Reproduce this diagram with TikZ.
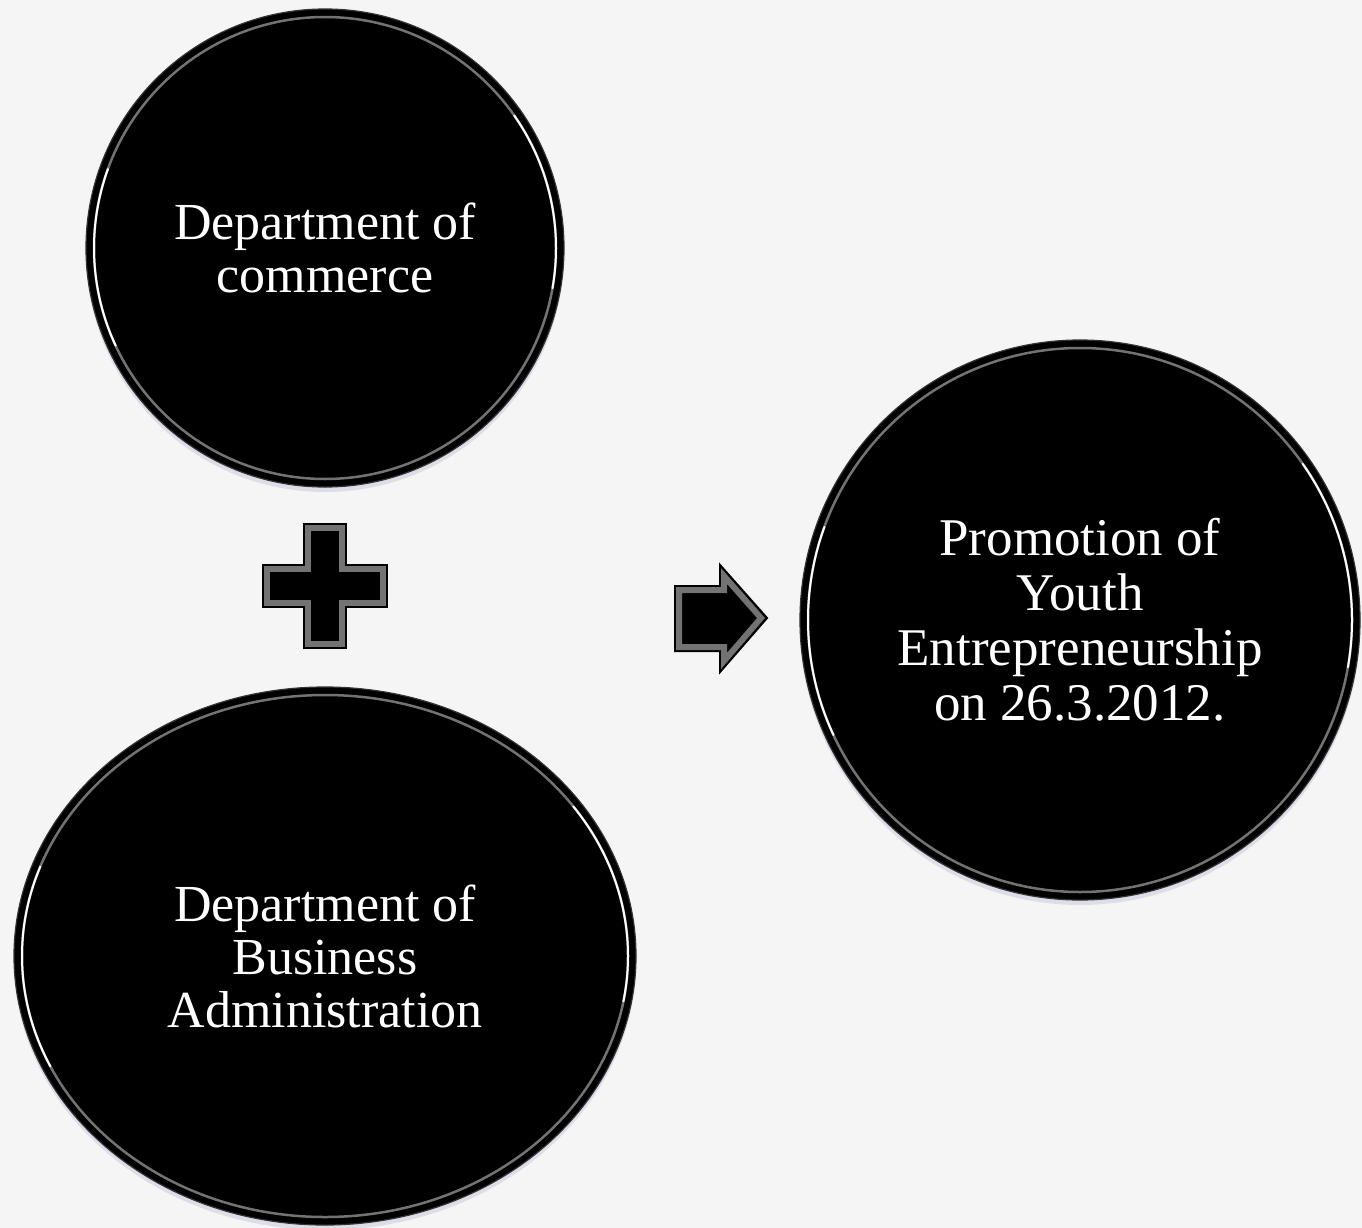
\documentclass[tikz,border=0pt]{standalone}
\usepackage{fontspec}
\setmainfont{Liberation Serif}
\usetikzlibrary{shapes.geometric, shadows}

\tikzset{
  disc/.style={fill=black, draw=black!80, line width=1.2pt, text=white, align=center, inner sep=0pt,
    font=\fontsize{52}{53}\selectfont,
    drop shadow={shadow xshift=0pt, shadow yshift=-5pt, opacity=0.25, fill=black!60!blue!40}},
  rim/.style={draw=black!55, line width=2.5pt},
  gloss/.style={draw=white, line width=2pt, line cap=round},
  bevel/.style={fill=black, draw=black, line width=2pt, line join=miter},
  facet/.style={draw=black!55, line width=6pt, line join=miter},
}

\begin{document}
\begin{tikzpicture}[x=1pt, y=-1pt]
    \fill[black!4] (0,0) rectangle (1362,1228);
    \useasboundingbox (0,0) rectangle (1362,1228);

    % the three discs
    \node[disc, circle, minimum size=478] (commerce) at (325,248) {Department of\\commerce};
    \node[disc, ellipse, minimum width=622, minimum height=538] (busadm) at (325,956) {Department of\\Business\\Administration};
    \node[disc, circle, minimum size=560, font=\fontsize{53}{55}\selectfont] (youth) at (1080,620) {Promotion of\\Youth\\Entrepreneurship\\on 26.3.2012.};

    % glassy rims
    \draw[rim] (commerce.center) circle[radius=231];
    \draw[rim] (busadm.center) ellipse[x radius=303, y radius=261];
    \draw[rim] (youth.center) circle[radius=272];
    \draw[gloss] ([shift={(155:231)}]commerce.center) arc[start angle=155, end angle=200, radius=231];
    \draw[gloss] ([shift={(-35:231)}]commerce.center) arc[start angle=-35, end angle=10, radius=231];
    \draw[gloss] ([shift={(155:272)}]youth.center) arc[start angle=155, end angle=200, radius=272];
    \draw[gloss] ([shift={(-35:272)}]youth.center) arc[start angle=-35, end angle=10, radius=272];
    \draw[gloss] (busadm.center) ++(155:303 and 261) arc[start angle=155, end angle=200, x radius=303, y radius=261];
    \draw[gloss] (busadm.center) ++(-35:303 and 261) arc[start angle=-35, end angle=10, x radius=303, y radius=261];

    % plus
    \draw[bevel] (304,524) -- (346,524) -- (346,565) -- (387,565) -- (387,607) -- (346,607)
        -- (346,648) -- (304,648) -- (304,607) -- (263,607) -- (263,565) -- (304,565) -- cycle;
    \draw[facet] (308,528) -- (342,528) -- (342,569) -- (383,569) -- (383,603) -- (342,603)
        -- (342,644) -- (308,644) -- (308,603) -- (267,603) -- (267,569) -- (308,569) -- cycle;

    % arrow
    \draw[bevel] (675,586) -- (720,586) -- (720,565) -- (767,618) -- (720,672) -- (720,651) -- (675,651) -- cycle;
    \draw[facet] (679,590) -- (724,590) -- (724,576) -- (761,618) -- (724,661) -- (724,647) -- (679,647) -- cycle;
\end{tikzpicture}
\end{document}
